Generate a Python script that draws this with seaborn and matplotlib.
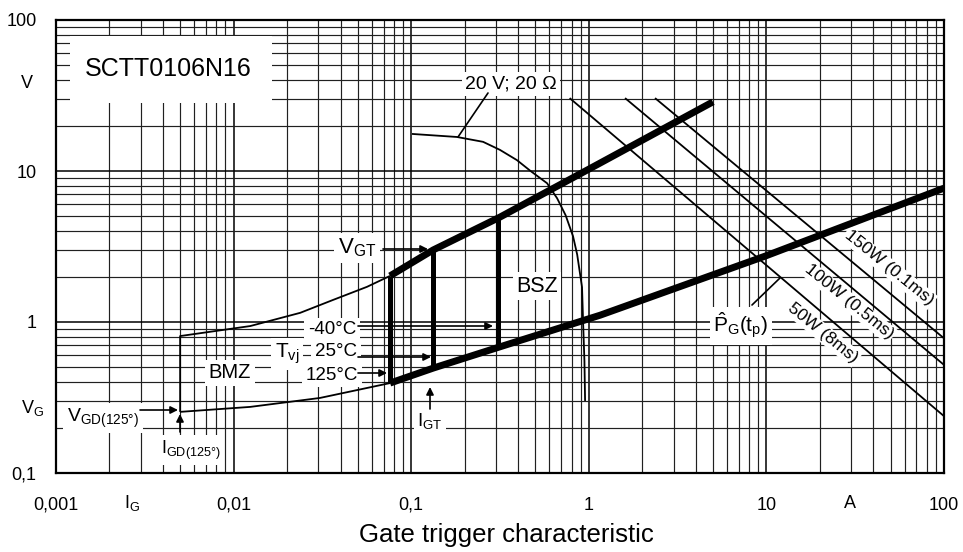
import numpy as np
import pandas as pd
import matplotlib
matplotlib.use("Agg")
import matplotlib.pyplot as plt
from matplotlib.patches import Rectangle
from matplotlib.ticker import LogLocator, NullFormatter
import seaborn as sns

# values (I_G in A, V_G in V)
# thick upper boundary of the trigger zone
upper_i = [0.076, 0.133, 0.316, 1.16, 5.0]
upper_v = [2.02, 3.0, 4.95, 11.3, 28.7]
# thick lower boundary
lower_i = [0.076, 0.133, 0.31, 1.16, 10, 100]
lower_v = [0.394, 0.495, 0.68, 1.11, 2.75, 7.7]
# I_GT at 125, 25, -40 degC
igt_i = [0.076, 0.133, 0.31]
igt_top = [2.02, 3.0, 4.9]
igt_bot = [0.394, 0.495, 0.68]
# thin curves of the BMZ
vgd_i = [0.005, 0.0124, 0.0306, 0.076]
vgd_v = [0.254, 0.274, 0.314, 0.394]
bmz_i = [0.005, 0.005, 0.0124, 0.0237, 0.0363, 0.0564, 0.076]
bmz_v = [0.254, 0.807, 0.94, 1.15, 1.40, 1.71, 2.02]
# 20 V ; 20 ohm load line
load_i = [0.101, 0.181, 0.254, 0.316, 0.394, 0.47, 0.582, 0.663, 0.74,
          0.815, 0.86, 0.916, 0.93, 0.945, 0.953]
load_v = [17.6, 16.8, 15.6, 13.8, 11.8, 10.0, 8.3, 6.6, 5.1,
          3.7, 2.8, 1.7, 0.95, 0.55, 0.30]
# peak gate power lines
p50_i = [0.78, 100]
p50_v = [30.4, 0.238]
p100_i = [1.6, 100]
p100_v = [30.4, 0.52]
p150_i = [2.36, 100]
p150_v = [30.4, 0.78]

x_ticks = [0.001, 0.01, 0.1, 1, 10, 100]
x_labels = ['0,001', '0,01', '0,1', '1', '10', '100']
y_ticks = [0.1, 1, 10, 100]
y_labels = ['0,1', '1', '10', '100']

sns.set_theme(style="white")
plt.rcParams['font.family'] = ['Liberation Sans', 'DejaVu Sans']
plt.rcParams['text.color'] = 'black'
plt.rcParams['mathtext.fontset'] = 'custom'
plt.rcParams['mathtext.rm'] = 'Liberation Sans'
plt.rcParams['mathtext.it'] = 'Liberation Sans:italic'

fig = plt.figure(figsize=(9.63, 5.52), dpi=100)
ax = fig.add_axes([56 / 963, 79 / 552, 888 / 963, 453 / 552])
ax.set_xscale('log')
ax.set_yscale('log')


def px(x, y):
    # pixel position in the picture -> axes fraction
    return ((x - 56) / 888, (473 - y) / 453)


def curve(x, y, lw):
    sns.lineplot(x=x, y=y, sort=False, estimator=None, color='black',
                 lw=lw, ax=ax, solid_capstyle='butt', zorder=3)


curve(vgd_i, vgd_v, 1.3)
curve(bmz_i, bmz_v, 1.3)
curve(load_i, load_v, 1.3)
for pi, pv in [(p50_i, p50_v), (p100_i, p100_v), (p150_i, p150_v)]:
    curve(pi, pv, 1.3)
curve(upper_i, upper_v, 5)
curve(lower_i, lower_v, 5)
ax.vlines(igt_i, igt_bot, igt_top, color='black', lw=3.6, zorder=3)

ax.set_xlim(0.001, 100)
ax.set_ylim(0.1, 100)
for a in (ax.xaxis, ax.yaxis):
    a.set_minor_locator(LogLocator(base=10, subs=np.arange(2, 10), numticks=20))
    a.set_minor_formatter(NullFormatter())
ax.set_xticks(x_ticks)
ax.set_xticklabels(x_labels)
ax.set_yticks(y_ticks)
ax.set_yticklabels(y_labels)
ax.tick_params(which='both', length=0, labelsize=13, colors='black')
ax.tick_params(axis='x', pad=17)
ax.tick_params(axis='y', pad=14)
ax.set_axisbelow(True)
ax.grid(True, which='major', color='black', lw=1.1)
ax.grid(True, which='minor', color='#202020', lw=0.85)
for s in ax.spines.values():
    s.set_color('black')
    s.set_linewidth(1.6)
ax.set_xlabel('')
ax.set_ylabel('')

# part number box
ax.add_patch(Rectangle(px(70, 103), 202 / 888, 67 / 453, transform=ax.transAxes,
                       facecolor='white', edgecolor='none', zorder=1.5))
ax.text(*px(168, 69), 'SCTT0106N16', transform=ax.transAxes, fontsize=18,
        ha='center', va='center', zorder=2)

box = dict(facecolor='white', edgecolor='none', pad=2.5)
labels = [
    ((511, 84), '20 V; 20 Ω', 14),
    ((357, 248), r'$\mathrm{V_{GT}}$', 16),
    ((537, 286), 'BSZ', 15.5),
    ((332, 330), '-40°C', 13.5),
    ((336, 352), '25°C', 13.5),
    ((332, 375), '125°C', 13.5),
    ((287, 354), r'$\mathrm{T_{vj}}$', 15),
    ((230, 373), 'BMZ', 14.5),
    ((103, 418), r'$\mathrm{V_{GD(125°)}}$', 14),
    ((191, 450), r'$\mathrm{I_{GD(125°)}}$', 13),
    ((430, 421), r'$\mathrm{I_{GT}}$', 13.5),
    ((741, 326), r'$\mathrm{\hat{P}_G(t_p)}$', 15),
]
for (x, y), s, fs in labels:
    ax.text(*px(x, y), s, transform=ax.transAxes, fontsize=fs, ha='center',
            va='center', bbox=box, zorder=2)

# rotated power labels along the lines
for (x, y), s in [((889, 268), '150W (0.1ms)'), ((849, 302), '100W (0.5ms)'),
                  ((823, 333), '50W (8ms)')]:
    ax.text(*px(x, y), s, transform=ax.transAxes, fontsize=12.5, ha='center',
            va='center', rotation=-39, rotation_mode='anchor',
            bbox=dict(facecolor='white', edgecolor='none', pad=1), zorder=2)

# arrows
arrows = [((383, 249), (428, 249)), ((358, 326), (493, 326)),
          ((358, 357), (431, 357)), ((358, 373), (387, 373)),
          ((140, 410), (178, 410)), ((180, 432), (180, 414)),
          ((430, 409), (430, 387))]
for a, b in arrows:
    ax.annotate('', xy=px(*b), xytext=px(*a), xycoords='axes fraction',
                textcoords='axes fraction', zorder=4,
                arrowprops=dict(arrowstyle='-|>', color='black', lw=1.2,
                                mutation_scale=11, shrinkA=0, shrinkB=0))
# leader lines
for a, b in [((488, 93), (458, 137)), ((752, 305), (780, 278))]:
    ax.annotate('', xy=px(*b), xytext=px(*a), xycoords='axes fraction',
                textcoords='axes fraction', zorder=4,
                arrowprops=dict(arrowstyle='-', color='black', lw=1.2,
                                shrinkA=0, shrinkB=0))

# axis names in the tick label rows
for (x, y), s in [((27, 83), 'V'), ((33, 408), r'$\mathrm{V_G}$'),
                  ((132, 503), r'$\mathrm{I_G}$'), ((850, 503), 'A')]:
    ax.text(*px(x, y), s, transform=ax.transAxes, fontsize=13, ha='center',
            va='center', clip_on=False)

fig.text(506 / 963, 1 - 535 / 552, 'Gate trigger characteristic', fontsize=18.5,
         ha='center', va='center')

fig.savefig('out.png', dpi=100, facecolor='white')
